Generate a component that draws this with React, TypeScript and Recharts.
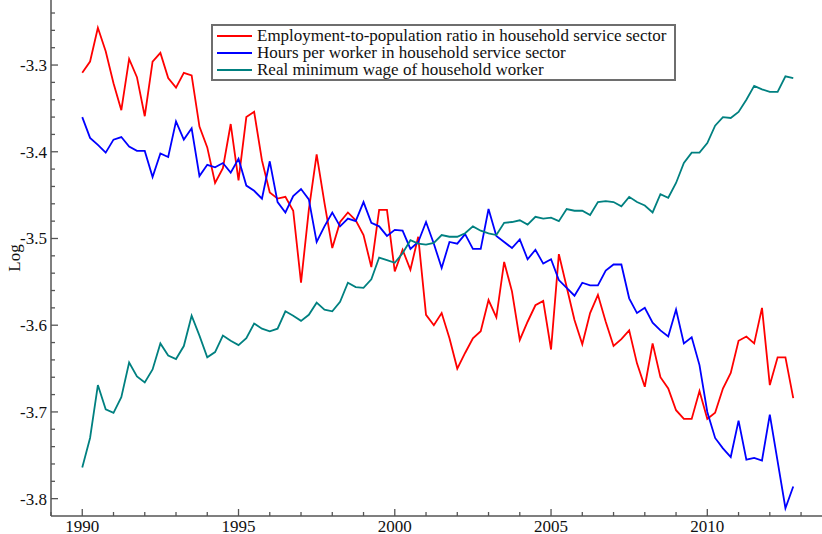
import { LineChart, Line, XAxis, YAxis, Legend } from "recharts";

const startYear = 1990;

// quarterly, 1990Q1 .. 2012Q4 (log values)
const employment = [
  -3.309, -3.296, -3.257, -3.284, -3.321, -3.352, -3.293, -3.314, -3.359, -3.296, -3.286, -3.315,
  -3.326, -3.309, -3.312, -3.371, -3.395, -3.436, -3.419, -3.368, -3.433, -3.36, -3.354, -3.41,
  -3.447, -3.454, -3.452, -3.468, -3.551, -3.467, -3.403, -3.459, -3.511, -3.481, -3.47, -3.479,
  -3.496, -3.533, -3.467, -3.467, -3.538, -3.513, -3.536, -3.498, -3.588, -3.6, -3.586, -3.615,
  -3.65, -3.632, -3.615, -3.607, -3.571, -3.591, -3.527, -3.561, -3.617, -3.596, -3.577, -3.572,
  -3.628, -3.518, -3.556, -3.594, -3.622, -3.586, -3.565, -3.596, -3.624, -3.616, -3.606, -3.644,
  -3.671, -3.621, -3.66, -3.673, -3.698, -3.708, -3.708, -3.676, -3.708, -3.701, -3.673, -3.655,
  -3.618, -3.613, -3.621, -3.58, -3.669, -3.637, -3.637, -3.684,
];

const hours = [
  -3.36, -3.384, -3.392, -3.401, -3.386, -3.383, -3.394, -3.399, -3.399, -3.429, -3.402, -3.406,
  -3.365, -3.386, -3.373, -3.428, -3.415, -3.418, -3.413, -3.424, -3.408, -3.439, -3.445, -3.454,
  -3.411, -3.458, -3.47, -3.451, -3.443, -3.455, -3.504, -3.486, -3.47, -3.486, -3.477, -3.48,
  -3.458, -3.482, -3.486, -3.497, -3.49, -3.491, -3.512, -3.504, -3.481, -3.506, -3.534, -3.504,
  -3.506, -3.495, -3.512, -3.512, -3.466, -3.497, -3.504, -3.511, -3.501, -3.524, -3.513, -3.529,
  -3.524, -3.548, -3.557, -3.566, -3.551, -3.554, -3.554, -3.537, -3.53, -3.53, -3.569, -3.586,
  -3.58, -3.597, -3.606, -3.613, -3.582, -3.621, -3.614, -3.646, -3.7, -3.73, -3.742, -3.752,
  -3.71, -3.755, -3.753, -3.756, -3.703, -3.757, -3.811, -3.786,
];

const minWage = [
  -3.764, -3.73, -3.669, -3.697, -3.701, -3.683, -3.643, -3.659, -3.666, -3.651, -3.621, -3.635,
  -3.639, -3.624, -3.589, -3.612, -3.637, -3.631, -3.612, -3.618, -3.623, -3.615, -3.598, -3.604,
  -3.607, -3.604, -3.584, -3.589, -3.595, -3.588, -3.574, -3.582, -3.584, -3.573, -3.551, -3.556,
  -3.557, -3.547, -3.522, -3.525, -3.528, -3.517, -3.502, -3.506, -3.507, -3.505, -3.496, -3.498,
  -3.498, -3.494, -3.486, -3.491, -3.494, -3.496, -3.482, -3.481, -3.479, -3.484, -3.475, -3.477,
  -3.476, -3.48, -3.466, -3.468, -3.468, -3.473, -3.458, -3.457, -3.458, -3.463, -3.452, -3.458,
  -3.462, -3.47, -3.449, -3.453, -3.436, -3.413, -3.401, -3.401, -3.39, -3.37, -3.36, -3.361,
  -3.354, -3.34, -3.324, -3.328, -3.331, -3.331, -3.313, -3.315,
];

const seriesNames = [
  "Employment-to-population ratio in household service sector",
  "Hours per worker in household service sector",
  "Real minimum wage of household worker",
];
const colors = ["#ff0000", "#0000ff", "#008080"];

const xTicks = Array.from({ length: 25 }, (_, i) => 1989 + i);
const yTicks = Array.from({ length: 29 }, (_, i) => Math.round((-3.8 + i * 0.02) * 100) / 100);

const data = employment.map((e, i) => ({
  t: startYear + i / 4,
  emp: e,
  hrs: hours[i],
  wage: minWage[i],
}));

const FONT = "'Liberation Serif', 'Times New Roman', serif";
const AXIS = "#555";

const XTick = (props: any) => {
  const { x, y, payload } = props;
  const v = payload.value;
  const major = v % 5 === 0;
  return (
    <g>
      <line x1={x} x2={x} y1={y} y2={y - (major ? 7 : 4)} stroke={AXIS} strokeWidth={1.3} />
      {major && (
        <text x={x} y={y + 15.5} textAnchor="middle" fontFamily={FONT} fontSize={17} fill="#111">
          {v}
        </text>
      )}
    </g>
  );
};

const YTick = (props: any) => {
  const { x, y, payload } = props;
  const v = payload.value;
  const major = Math.abs(v * 10 - Math.round(v * 10)) < 1e-6;
  return (
    <g>
      <line x1={x} x2={x + (major ? 7 : 4)} y1={y} y2={y} stroke={AXIS} strokeWidth={1.3} />
      {major && (
        <text x={x - 4} y={y} dy="0.35em" textAnchor="end" fontFamily={FONT} fontSize={17} fill="#111">
          {v.toFixed(1)}
        </text>
      )}
    </g>
  );
};

const LegendBox = () => (
  <div
    style={{
      border: "2px solid #6e6e6e",
      background: "#fff",
      width: 457,
      padding: "1px 0 0 4px",
      fontFamily: FONT,
      fontSize: 17,
      color: "#111",
      boxSizing: "content-box",
    }}
  >
    {seriesNames.map((n, i) => (
      <div key={n} style={{ display: "flex", alignItems: "center", height: 17.4, whiteSpace: "nowrap" }}>
        <svg width={35} height={4} style={{ marginRight: 5, flex: "none" }}>
          <line x1={0} x2={35} y1={2} y2={2} stroke={colors[i]} strokeWidth={1.8} />
        </svg>
        <span>{n}</span>
      </div>
    ))}
  </div>
);

export default function App() {
  return (
    <div style={{ position: "absolute", left: 0, top: 0, width: 822, height: 534, background: "#fff" }}>
      <LineChart width={822} height={534} data={data} margin={{ top: 0, right: 0, left: 0, bottom: 0 }}>
        <XAxis
          dataKey="t"
          type="number"
          domain={[1989, 2013.67]}
          ticks={xTicks}
          interval={0}
          allowDataOverflow
          height={18}
          tickSize={0}
          tickMargin={0}
          tickLine={false}
          tick={<XTick />}
          axisLine={{ stroke: AXIS, strokeWidth: 1.5 }}
        />
        <YAxis
          type="number"
          domain={[-3.82, -3.225]}
          ticks={yTicks}
          interval={0}
          allowDataOverflow
          width={51}
          tickSize={0}
          tickMargin={0}
          tickLine={false}
          tick={<YTick />}
          axisLine={{ stroke: AXIS, strokeWidth: 1.5 }}
          label={{
            value: "Log",
            angle: -90,
            position: "insideLeft",
            offset: 14,
            style: { fontFamily: FONT, fontSize: 17, fill: "#111", textAnchor: "middle" },
          }}
        />
        <Legend
          layout="horizontal"
          align="center"
          verticalAlign="middle"
          content={<LegendBox />}
          wrapperStyle={{ position: "absolute", left: 211, top: 24, width: "auto" }}
        />
        <Line dataKey="emp" stroke={colors[0]} strokeWidth={1.8} dot={false} isAnimationActive={false} />
        <Line dataKey="hrs" stroke={colors[1]} strokeWidth={1.8} dot={false} isAnimationActive={false} />
        <Line dataKey="wage" stroke={colors[2]} strokeWidth={1.8} dot={false} isAnimationActive={false} />
      </LineChart>
    </div>
  );
}
